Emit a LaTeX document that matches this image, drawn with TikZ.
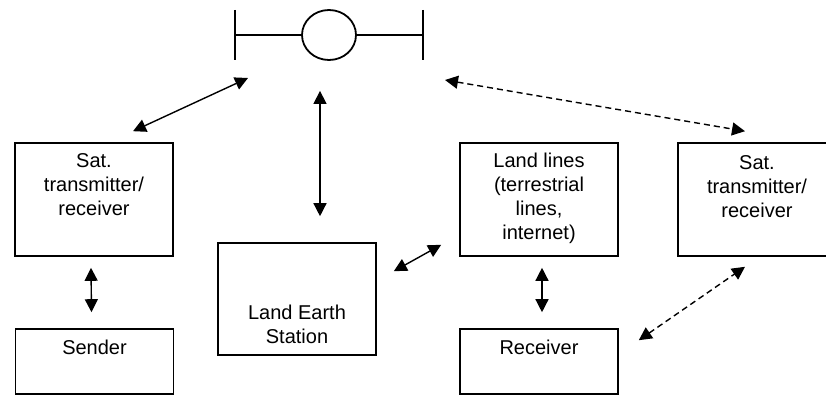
\documentclass[tikz,border=0pt]{standalone}
\usepackage{fontspec}
\setmainfont{Liberation Sans}
\usetikzlibrary{arrows.meta,positioning,shapes.geometric}

\begin{document}
\begin{tikzpicture}[x=1pt,y=-1pt,
	box/.style = {draw, line width=1.6pt, minimum width=158pt, minimum height=113pt, inner sep=0pt},
	small/.style = {box, minimum height=65pt},
	txt/.style = {inner sep=0pt, align=center, font=\fontsize{20pt}{24pt}\selectfont},
	link/.style = {line width=1.4pt, {Triangle[length=13pt,width=13pt]}-{Triangle[length=13pt,width=13pt]}},
	radio/.style = {link, dash pattern=on 6pt off 4pt}]
	\clip (0,0) rectangle (826,396);

	% satellite
	\node[draw, ellipse, line width=1.8pt, minimum width=54pt, minimum height=50pt] (sat) at (329,35) {};
	\coordinate (satL) at (235,35);
	\coordinate (satR) at (423,35);
	\draw[line width=1.8pt] (satL) -- (sat.west) (sat.east) -- (satR);
	\draw[line width=1.8pt] (satL) ++(0,-25) -- ++(0,50);
	\draw[line width=1.8pt] (satR) ++(0,-25) -- ++(0,50);

	% boxes
	\node[box] (1) at (94,199.5) {};
	\node[small] (2) at (94.5,361.5) {};
	\node[box, minimum height=112pt] (3) at (297,299) {};
	\node[box] (4) at (539,199.5) {};
	\node[small] (5) at (539,361.5) {};
	\node[box] (6) at (757,199.5) {};

	\node[txt] (1t) [below=11pt of 1.north] {Sat.\\transmitter/\\receiver};
	\node[txt] (2t) [below=12pt of 2.north] {Sender};
	\node[txt] (3t) [above=12pt of 3.south] {Land Earth\\Station};
	\node[txt] (4t) [below=11pt of 4.north] {Land lines\\(terrestrial\\lines,\\internet)};
	\node[txt] (5t) [below=12pt of 5.north] {Receiver};
	\node[txt] (6t) [below=13pt of 6.north] {Sat.\\transmitter/\\receiver};

	% links
	\draw[link] ([shift={(39,-11)}]1.north) -- ([shift={(-81,43)}]sat.center);
	\draw[link] ([shift={(-9,30)}]sat.south) -- ([shift={(23,-26)}]3.north);
	\draw[radio] ([shift={(116,45)}]sat.center) -- ([shift={(-12,-11)}]6.north);
	\draw[link] ([shift={(-3,11)}]1.south) -- ([shift={(-3,-16)}]2.north);
	\draw[link] ([shift={(17,29)}]3.north east) -- ([shift={(-18,-12)}]4.south west);
	\draw[link] ([shift={(3,11)}]4.south) -- ([shift={(3,-16)}]5.north);
	\draw[radio] ([shift={(20,12)}]5.north east) -- ([shift={(-12,10)}]6.south);
\end{tikzpicture}
\end{document}
